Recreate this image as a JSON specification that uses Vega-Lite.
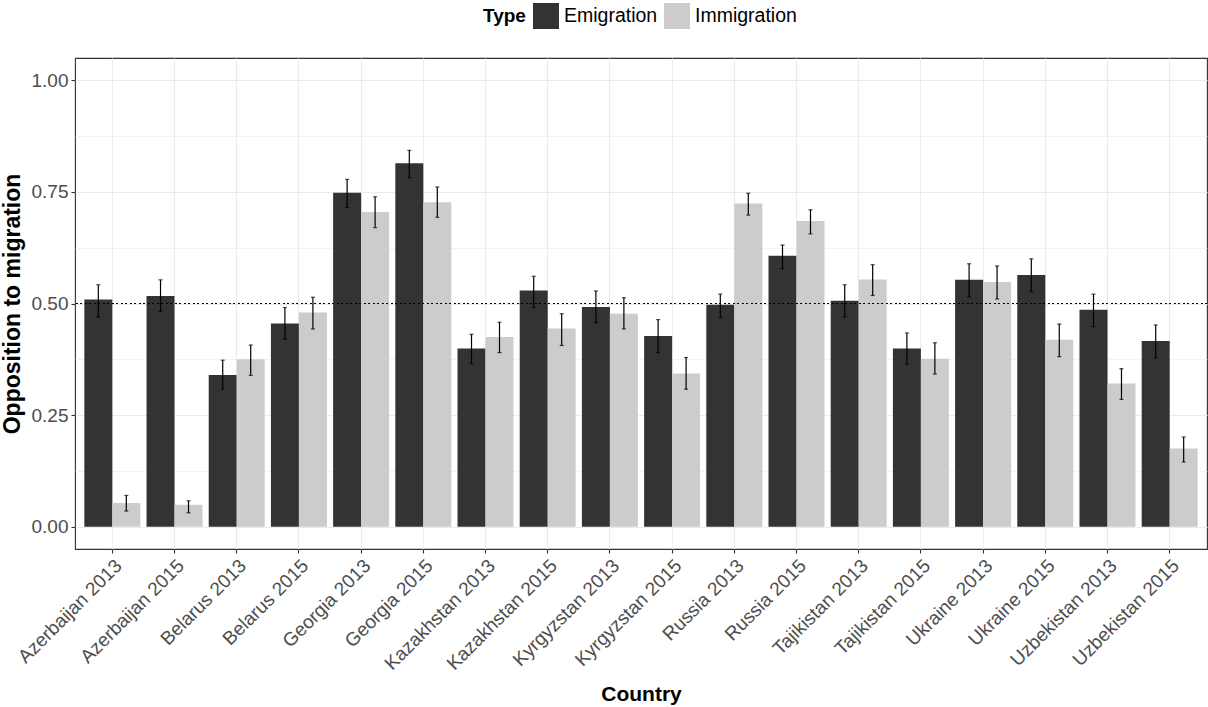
{
  "$schema": "https://vega.github.io/schema/vega-lite/v6.json",
  "width": 1132,
  "height": 491,
  "autosize": {"type": "none"},
  "padding": {"left": 75, "top": 58, "right": 1, "bottom": 158},
  "background": "white",
  "config": {
    "font": "Liberation Sans",
    "view": {"stroke": "#333333", "strokeWidth": 1.1},
    "axis": {
      "domain": false,
      "labelColor": "#4D4D4D",
      "labelFontSize": 19,
      "labelFont": "Liberation Sans",
      "titleFont": "Liberation Sans",
      "titleFontSize": 21,
      "titleFontWeight": "bold",
      "titleColor": "black",
      "tickColor": "#333333",
      "tickSize": 4,
      "tickWidth": 1.1,
      "gridColor": "#EBEBEB"
    }
  },
  "data": {
    "values": [
      {"Country": "Azerbaijan 2013", "Type": "Emigration", "value": 0.509, "lo": 0.470, "hi": 0.542},
      {"Country": "Azerbaijan 2013", "Type": "Immigration", "value": 0.053, "lo": 0.035, "hi": 0.070},
      {"Country": "Azerbaijan 2015", "Type": "Emigration", "value": 0.517, "lo": 0.482, "hi": 0.553},
      {"Country": "Azerbaijan 2015", "Type": "Immigration", "value": 0.049, "lo": 0.031, "hi": 0.058},
      {"Country": "Belarus 2013", "Type": "Emigration", "value": 0.340, "lo": 0.308, "hi": 0.373},
      {"Country": "Belarus 2013", "Type": "Immigration", "value": 0.375, "lo": 0.339, "hi": 0.407},
      {"Country": "Belarus 2015", "Type": "Emigration", "value": 0.455, "lo": 0.420, "hi": 0.491},
      {"Country": "Belarus 2015", "Type": "Immigration", "value": 0.480, "lo": 0.443, "hi": 0.514},
      {"Country": "Georgia 2013", "Type": "Emigration", "value": 0.748, "lo": 0.715, "hi": 0.778},
      {"Country": "Georgia 2013", "Type": "Immigration", "value": 0.705, "lo": 0.670, "hi": 0.739},
      {"Country": "Georgia 2015", "Type": "Emigration", "value": 0.814, "lo": 0.782, "hi": 0.843},
      {"Country": "Georgia 2015", "Type": "Immigration", "value": 0.727, "lo": 0.693, "hi": 0.761},
      {"Country": "Kazakhstan 2013", "Type": "Emigration", "value": 0.399, "lo": 0.365, "hi": 0.431},
      {"Country": "Kazakhstan 2013", "Type": "Immigration", "value": 0.425, "lo": 0.390, "hi": 0.458},
      {"Country": "Kazakhstan 2015", "Type": "Emigration", "value": 0.529, "lo": 0.491, "hi": 0.561},
      {"Country": "Kazakhstan 2015", "Type": "Immigration", "value": 0.444, "lo": 0.406, "hi": 0.477},
      {"Country": "Kyrgyzstan 2013", "Type": "Emigration", "value": 0.492, "lo": 0.457, "hi": 0.528},
      {"Country": "Kyrgyzstan 2013", "Type": "Immigration", "value": 0.477, "lo": 0.443, "hi": 0.513},
      {"Country": "Kyrgyzstan 2015", "Type": "Emigration", "value": 0.427, "lo": 0.390, "hi": 0.464},
      {"Country": "Kyrgyzstan 2015", "Type": "Immigration", "value": 0.343, "lo": 0.308, "hi": 0.379},
      {"Country": "Russia 2013", "Type": "Emigration", "value": 0.497, "lo": 0.468, "hi": 0.521},
      {"Country": "Russia 2013", "Type": "Immigration", "value": 0.724, "lo": 0.698, "hi": 0.747},
      {"Country": "Russia 2015", "Type": "Emigration", "value": 0.607, "lo": 0.578, "hi": 0.631},
      {"Country": "Russia 2015", "Type": "Immigration", "value": 0.685, "lo": 0.656, "hi": 0.710},
      {"Country": "Tajikistan 2013", "Type": "Emigration", "value": 0.506, "lo": 0.470, "hi": 0.542},
      {"Country": "Tajikistan 2013", "Type": "Immigration", "value": 0.554, "lo": 0.518, "hi": 0.587},
      {"Country": "Tajikistan 2015", "Type": "Emigration", "value": 0.399, "lo": 0.364, "hi": 0.434},
      {"Country": "Tajikistan 2015", "Type": "Immigration", "value": 0.376, "lo": 0.342, "hi": 0.412},
      {"Country": "Ukraine 2013", "Type": "Emigration", "value": 0.553, "lo": 0.515, "hi": 0.589},
      {"Country": "Ukraine 2013", "Type": "Immigration", "value": 0.548, "lo": 0.510, "hi": 0.584},
      {"Country": "Ukraine 2015", "Type": "Emigration", "value": 0.564, "lo": 0.527, "hi": 0.600},
      {"Country": "Ukraine 2015", "Type": "Immigration", "value": 0.419, "lo": 0.381, "hi": 0.454},
      {"Country": "Uzbekistan 2013", "Type": "Emigration", "value": 0.486, "lo": 0.448, "hi": 0.521},
      {"Country": "Uzbekistan 2013", "Type": "Immigration", "value": 0.321, "lo": 0.285, "hi": 0.354},
      {"Country": "Uzbekistan 2015", "Type": "Emigration", "value": 0.416, "lo": 0.378, "hi": 0.452},
      {"Country": "Uzbekistan 2015", "Type": "Immigration", "value": 0.175, "lo": 0.145, "hi": 0.201}
    ]
  },
  "encoding": {
    "x": {
      "field": "Country",
      "type": "nominal",
      "sort": null,
      "title": "Country",
      "scale": {"paddingInner": 0.1, "paddingOuter": 0.15},
      "axis": {
        "labelAngle": -45,
        "labelAlign": "right",
        "labelBaseline": "top",
        "labelPadding": 3,
        "bandPosition": 0.5,
        "grid": true,
        "gridWidth": 1.1,
        "titlePadding": 10
      }
    },
    "xOffset": {
      "field": "Type",
      "type": "nominal",
      "scale": {"paddingInner": 0, "paddingOuter": 0}
    }
  },
  "layer": [
    {
      "mark": {"type": "bar"},
      "encoding": {
        "y": {
          "field": "value",
          "type": "quantitative",
          "title": "Opposition to migration",
          "scale": {"domain": [-0.05, 1.05], "nice": false, "zero": false},
          "axis": {
            "values": [0, 0.125, 0.25, 0.375, 0.5, 0.625, 0.75, 0.875, 1],
            "format": ".2f",
            "labelExpr": "datum.value % 0.25 === 0 ? datum.label : ''",
            "tickOpacity": {"condition": {"test": "datum.value % 0.25 !== 0", "value": 0}, "value": 1},
            "gridWidth": {"condition": {"test": "datum.value % 0.25 !== 0", "value": 0.6}, "value": 1.1},
            "labelPadding": 3,
            "titleFontSize": 23,
            "titlePadding": 7
          }
        },
        "y2": {"datum": 0},
        "color": {
          "field": "Type",
          "type": "nominal",
          "title": "Type",
          "scale": {"domain": ["Emigration", "Immigration"], "range": ["#333333", "#CCCCCC"]},
          "legend": {
            "orient": "none",
            "legendX": 408,
            "legendY": -55,
            "direction": "horizontal",
            "titleOrient": "left",
            "titleFontSize": 19,
            "titleFontWeight": "bold",
            "titleColor": "black",
            "titlePadding": 7,
            "titleBaseline": "middle",
            "labelFontSize": 19.5,
            "labelColor": "black",
            "labelOffset": 5,
            "columnPadding": 6,
            "symbolType": "square",
            "symbolSize": 676,
            "symbolStrokeWidth": 0,
            "symbolOpacity": 1
          }
        }
      }
    },
    {
      "mark": {"type": "rule", "color": "black", "strokeWidth": 1.2},
      "encoding": {
        "y": {"field": "lo", "type": "quantitative"},
        "y2": {"field": "hi"}
      }
    },
    {
      "mark": {"type": "tick", "color": "black", "size": 4, "thickness": 1.2},
      "encoding": {"y": {"field": "lo", "type": "quantitative"}}
    },
    {
      "mark": {"type": "tick", "color": "black", "size": 4, "thickness": 1.2},
      "encoding": {"y": {"field": "hi", "type": "quantitative"}}
    },
    {
      "mark": {"type": "rule", "color": "black", "strokeWidth": 1.1, "strokeDash": [1.5, 3]},
      "encoding": {"y": {"datum": 0.5}, "x": null, "xOffset": null}
    }
  ]
}
